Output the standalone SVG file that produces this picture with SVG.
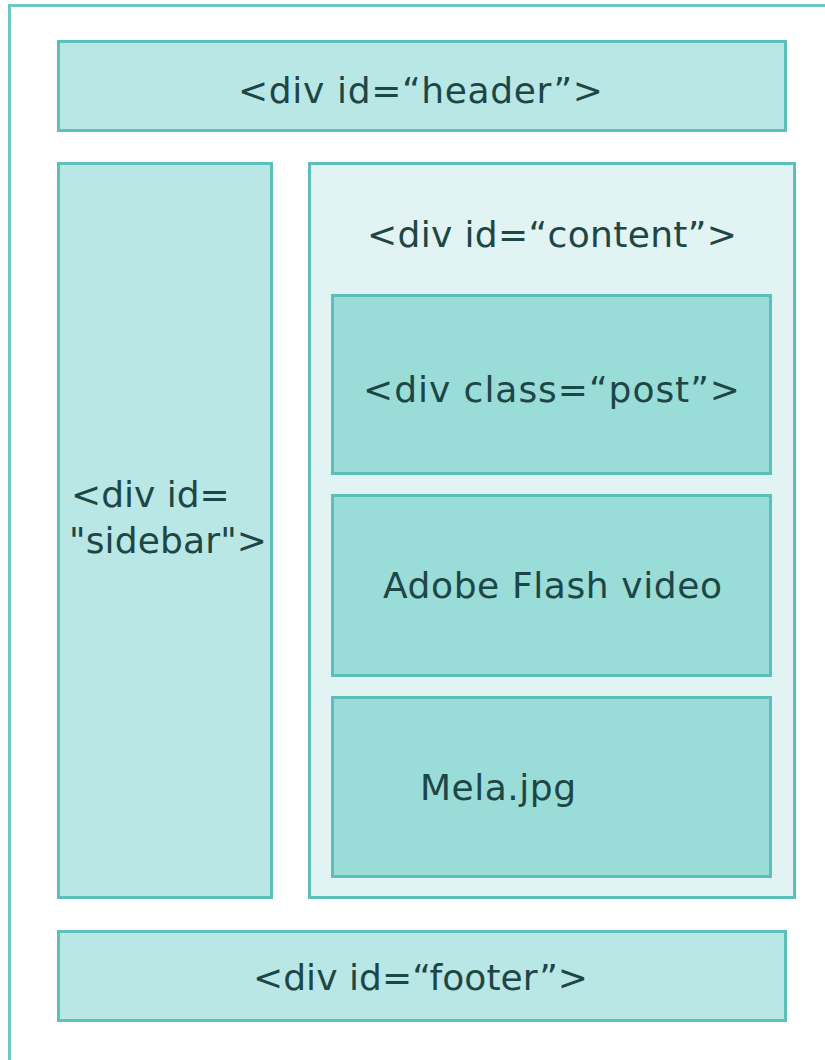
<svg xmlns="http://www.w3.org/2000/svg" width="825" height="1060" viewBox="0 0 825 1060">
<style>
.box{stroke:#5cbfba;stroke-width:3}
.outer{fill:#ffffff;stroke:#6cc6c1;stroke-width:3}
.l1{fill:#b9e7e5}
.l2{fill:#e1f4f3}
.l3{fill:#9adcd8}
text{font-family:"DejaVu Sans","Liberation Sans",sans-serif;font-size:36px;fill:#1d4646}
</style>
<rect width="825" height="1060" fill="#ffffff"/>
<rect class="outer" x="9.5" y="5.5" width="830" height="1070"/>
<g id="header">
<rect class="box l1" x="58.5" y="41.5" width="727" height="89"/>
<text x="238" y="103" textLength="365">&lt;div id=“header”&gt;</text>
</g>
<g id="sidebar">
<rect class="box l1" x="58.5" y="163.5" width="213" height="734"/>
<text x="71" y="507">&lt;div id=</text>
<text x="69" y="553" textLength="198">"sidebar"&gt;</text>
</g>
<g id="content">
<rect class="box l2" x="309.5" y="163.5" width="485" height="734"/>
<text x="367" y="247" textLength="370">&lt;div id=“content”&gt;</text>
</g>
<g id="post">
<rect class="box l3" x="332.5" y="295.5" width="438" height="178"/>
<text x="363" y="402" textLength="377">&lt;div class=“post”&gt;</text>
</g>
<g id="flash">
<rect class="box l3" x="332.5" y="495.5" width="438" height="180"/>
<text x="383" y="598" textLength="339">Adobe Flash video</text>
</g>
<g id="mela">
<rect class="box l3" x="332.5" y="697.5" width="438" height="179"/>
<text x="420" y="800" textLength="156">Mela.jpg</text>
</g>
<g id="footer">
<rect class="box l1" x="58.5" y="931.5" width="727" height="89"/>
<text x="253" y="990" textLength="335">&lt;div id=“footer”&gt;</text>
</g>
<g id="connectors"></g>
</svg>
